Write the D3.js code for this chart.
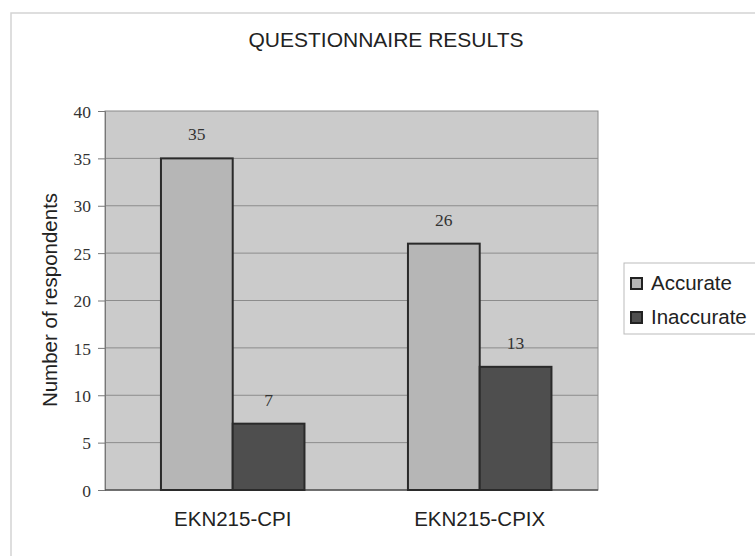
<!DOCTYPE html>
<html><head><meta charset="utf-8">
<script src="https://cdn.jsdelivr.net/npm/d3@7/dist/d3.min.js"></script>
<style>body{margin:0;background:#fff}svg{display:block}</style>
</head><body>
<svg id="c" width="755" height="556"></svg>
<script>
const categories = ["EKN215-CPI", "EKN215-CPIX"];
const seriesNames = ["Accurate", "Inaccurate"];
const accurate = [35, 26];
const inaccurate = [7, 13];
const yTicks = [0, 5, 10, 15, 20, 25, 30, 35, 40];

const colors = {Accurate: "#b6b6b6", Inaccurate: "#4e4e4e"};
const svg = d3.select("#c");
const sans = "'Liberation Sans', Arial, sans-serif";
const serif = "'Liberation Serif', 'Times New Roman', serif";

// outer frame
svg.append("path").attr("d", "M11,556 L11,13 L755,13").attr("fill", "none").attr("stroke", "#d4d4d4").attr("stroke-width", 1.5);

const m = {left: 105, right: 598, top: 111, bottom: 490};
const x0 = d3.scaleBand().domain(categories).range([m.left, m.right])
  .paddingInner(0.419).paddingOuter(0.2075).align(0.546);
const x1 = d3.scaleBand().domain(seriesNames).range([0, x0.bandwidth()]);
const y = d3.scaleLinear().domain([0, 40]).range([m.bottom, m.top]);

// plot bg
svg.append("rect").attr("x", m.left).attr("y", m.top).attr("width", m.right - m.left).attr("height", m.bottom - m.top)
  .attr("fill", "#cbcbcb").attr("stroke", "#8a8a8a").attr("stroke-width", 1);

// gridlines
svg.append("g").selectAll("line").data(yTicks.filter(d => d > 0 && d < 40)).join("line")
  .attr("x1", m.left).attr("x2", m.right).attr("y1", d => y(d)).attr("y2", d => y(d))
  .attr("stroke", "#8c8c8c").attr("stroke-width", 1);

// y axis
const ya = svg.append("g").attr("transform", `translate(${m.left},0)`)
  .call(d3.axisLeft(y).tickValues(yTicks).tickSize(7).tickPadding(7));
ya.select(".domain").attr("stroke", "#777");
ya.selectAll(".tick line").attr("stroke", "#777");
ya.selectAll("text").attr("font-family", serif).attr("font-size", 17.5).attr("fill", "#333").attr("dy", "0.35em");

// x axis baseline
svg.append("line").attr("x1", m.left).attr("x2", m.right).attr("y1", m.bottom).attr("y2", m.bottom).attr("stroke", "#555").attr("stroke-width", 1.5);

const data = categories.map((c, i) => ({cat: c, vals: [{s: "Accurate", v: accurate[i]}, {s: "Inaccurate", v: inaccurate[i]}]}));
const g = svg.append("g");
data.forEach(d => {
  d.vals.forEach(e => {
    const bx = x0(d.cat) + x1(e.s);
    g.append("rect").attr("x", bx).attr("y", y(e.v)).attr("width", x1.bandwidth()).attr("height", y(0) - y(e.v))
      .attr("fill", colors[e.s]).attr("stroke", "#2a2a2a").attr("stroke-width", 2);
    g.append("text").attr("x", bx + x1.bandwidth() / 2).attr("y", y(e.v) - 18).attr("text-anchor", "middle")
      .attr("font-family", serif).attr("font-size", 17.5).attr("fill", "#333").text(e.v);
  });
  svg.append("text").attr("x", x0(d.cat) + x0.bandwidth() / 2).attr("y", 526).attr("text-anchor", "middle")
    .attr("font-family", sans).attr("font-size", 20.5).attr("fill", "#222").text(d.cat);
});

// title
svg.append("text").attr("x", 386).attr("y", 47).attr("text-anchor", "middle")
  .attr("font-family", sans).attr("font-size", 21).attr("fill", "#222").text("QUESTIONNAIRE RESULTS");

// y title
svg.append("text").attr("transform", "translate(57,300) rotate(-90)").attr("text-anchor", "middle")
  .attr("font-family", sans).attr("font-size", 20.5).attr("fill", "#222").text("Number of respondents");

// legend
const lg = svg.append("g");
lg.append("rect").attr("x", 624).attr("y", 263).attr("width", 140).attr("height", 71).attr("fill", "#fff").attr("stroke", "#bbb");
seriesNames.forEach((s, i) => {
  const base = 290 + i * 34;
  lg.append("rect").attr("x", 631).attr("y", base - 12).attr("width", 11).attr("height", 11).attr("fill", colors[s]).attr("stroke", "#222").attr("stroke-width", 2);
  lg.append("text").attr("x", 651).attr("y", base).attr("font-family", sans).attr("font-size", 20.5).attr("fill", "#222").text(s);
});
</script>
</body></html>
